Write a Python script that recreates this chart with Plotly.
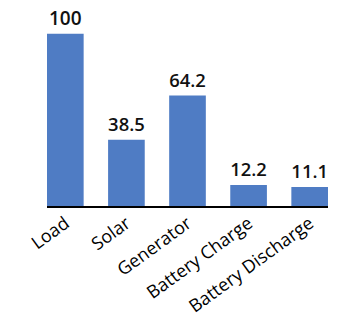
import plotly.graph_objects as go

categories = ["Load", "Solar", "Generator", "Battery Charge", "Battery Discharge"]
values = [100, 38.5, 64.2, 12.2, 11.1]
value_labels = ["100", "38.5", "64.2", "12.2", "11.1"]

fig = go.Figure(go.Bar(
    x=categories, y=values, text=value_labels,
    textposition="outside", cliponaxis=False,
    textfont=dict(family="Open Sans", size=19, color="#111111", weight=600),
    marker=dict(color="#4F7CC4", line=dict(width=0)),
))
fig.update_layout(
    width=346, height=327,
    margin=dict(l=47, r=18, t=8, b=121),
    paper_bgcolor="white", plot_bgcolor="white",
    bargap=0.4, showlegend=False,
    xaxis=dict(range=[-0.3, 4.3], showline=True, linecolor="black", linewidth=2,
               tickangle=-36, ticks="", showgrid=False, automargin=False,
               tickfont=dict(family="Open Sans", size=18, color="#000000"),
               ticklabelstandoff=-2),
    yaxis=dict(range=[0, 115], visible=False, showgrid=False, zeroline=False,
               automargin=False),
)
fig.write_html("out.html")
